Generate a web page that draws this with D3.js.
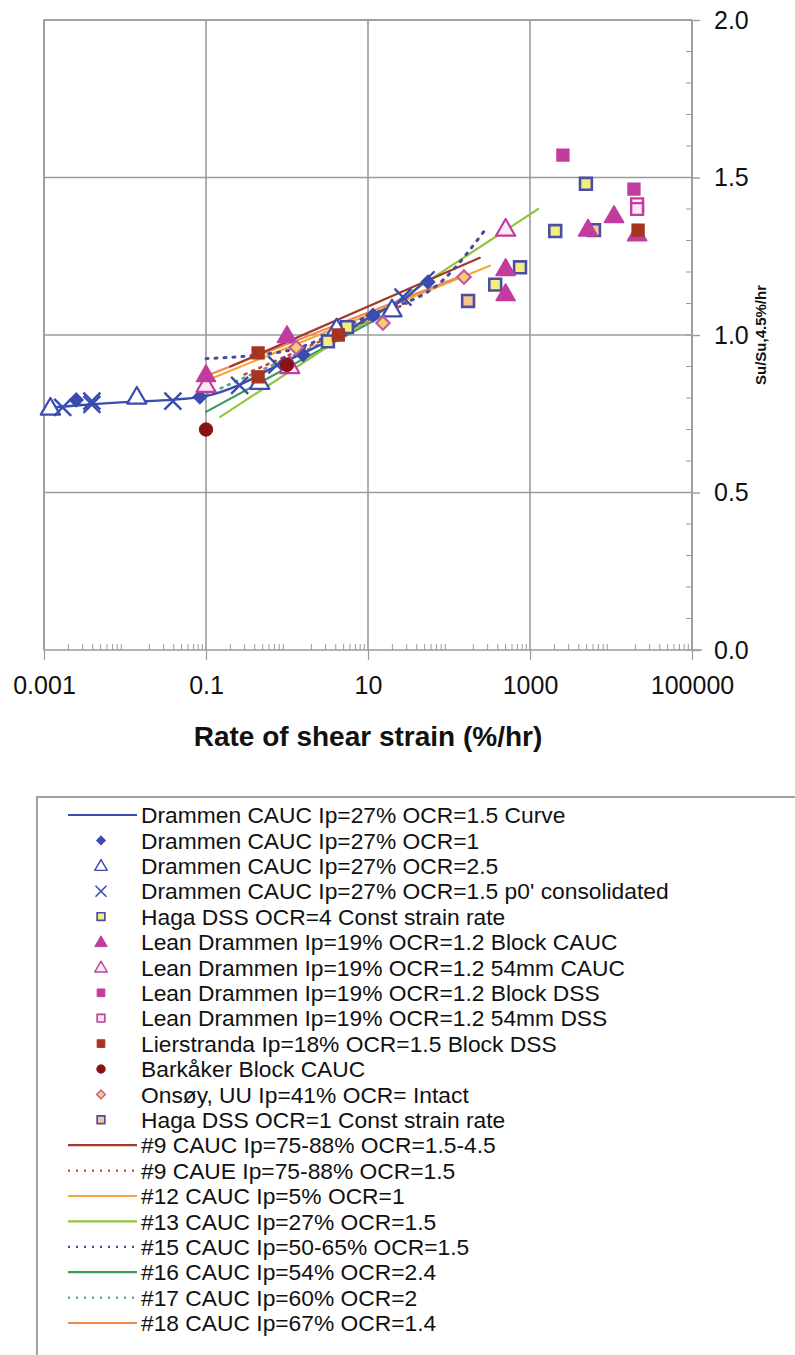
<!DOCTYPE html>
<html>
<head>
<meta charset="utf-8">
<script src="https://cdn.jsdelivr.net/npm/d3@7"></script>
<style>
  html, body { margin: 0; padding: 0; background: #fff; }
  svg { display: block; }
  text { font-family: "Liberation Sans", Arial, sans-serif; fill: #111; }
</style>
</head>
<body>
<svg id="chart" width="795" height="1355"></svg>
<script>
// ---------- data ----------
const xTickValues = [0.001, 0.1, 10, 1000, 100000];
const xTickLabels = ["0.001", "0.1", "10", "1000", "100000"];
const yTickValues = [0, 0.5, 1.0, 1.5, 2.0];
const yTickLabels = ["0.0", "0.5", "1.0", "1.5", "2.0"];
const xTitle = "Rate of shear strain (%/hr)";
const yTitle = "Su/Su,4.5%/hr";

// lines: [rate, ratio]
const drammenCurve = [[0.0011,0.768],[0.003,0.778],[0.01,0.787],[0.04,0.795],[0.1,0.806],[0.25,0.84],[0.6,0.89],[1.5,0.94],[4.5,1.0],[11,1.06],[30,1.12],[65,1.2]];
const line9CAUC = [[0.2,0.90],[240,1.245]];
const line9CAUE = [[0.3,0.875],[30,1.10]];
const line12 = [[0.1,0.855],[320,1.22]];
const line13 = [[0.15,0.74],[1260,1.40]];
const line15 = [[0.1,0.925],[1,0.95],[10,1.06],[85,1.175],[300,1.345]];
const line16 = [[0.1,0.756],[15,1.06]];
const line17 = [[0.1,0.81],[10,1.04]];
const line18 = [[0.1,0.87],[150,1.19]];

// points: [rate, ratio]
const drammenOCR1 = [[0.0025,0.794],[0.084,0.803],[1.58,0.937],[11.5,1.063],[55,1.168]];
const drammenOCR25 = [[0.0012,0.768],[0.014,0.803],[0.46,0.85],[4.1,1.02],[19.8,1.08]];
const drammenP0 = [[0.0017,0.77],[0.0039,0.78],[0.0039,0.79],[0.039,0.79],[0.26,0.84],[0.75,0.905],[27,1.12]];
const hagaOCR4 = [[3.2,0.98],[5.5,1.025],[372,1.16],[753,1.215],[2050,1.33],[4900,1.48]];
const leanBlockCAUC = [[0.1,0.873],[1.0,0.997],[500,1.21],[500,1.13],[5200,1.335],[10900,1.378],[21000,1.32]];
const lean54CAUC = [[0.1,0.84],[1.08,0.90],[500,1.336]];
const leanBlockDSS = [[2550,1.571],[19200,1.463]];
const lean54DSS = [[21000,1.415],[21000,1.40]];
const lierstranda = [[0.44,0.943],[0.44,0.867],[4.3,1.0],[21600,1.333]];
const barkaker = [[0.1,0.70],[1.0,0.905]];
const onsoy = [[1.3,0.96],[15.3,1.038],[153,1.184]];
const hagaOCR1 = [[172,1.108],[6170,1.333]];

// ---------- setup ----------
const svg = d3.select("#chart");
const L = 44, R = 692, T = 20, B = 650;
const x = d3.scaleLog().domain([0.001, 100000]).range([L, R]);
const y = d3.scaleLinear().domain([0, 2]).range([B, T]);
const gridCol = "#9b9b9b";

const C = {
  blue: "#3a4caf", magenta: "#c23c9f", brown: "#a53420", darkred: "#8a1212",
  yellow: "#f4ef7c", peach: "#f7c78e", hagaBorder: "#4a4ea6",
  onsFill: "#f6cf6a", onsStroke: "#c25aa6",
  c9: "#a23a2b", c9e: "#d8432b", c12: "#f6a83f", c13: "#8fc642",
  c15: "#4a4a98", c16: "#3c9a5f", c17: "#5aa489", c18: "#ef8a4c"
};

// grid lines (vertical every 2 decades, horizontal every 0.5)
const g = svg.append("g");
g.selectAll("line.vg").data(xTickValues).enter().append("line")
  .attr("x1", d => x(d)).attr("x2", d => x(d)).attr("y1", T).attr("y2", B)
  .attr("stroke", gridCol).attr("stroke-width", 1.6);
g.selectAll("line.hg").data(yTickValues.filter(v => v > 0)).enter().append("line")
  .attr("x1", L).attr("x2", R).attr("y1", d => y(d)).attr("y2", d => y(d))
  .attr("stroke", gridCol).attr("stroke-width", 1.6);

// bottom axis with minor ticks
const minorX = [];
for (let e = -3; e < 5; e++) for (let m = 2; m <= 9; m++) minorX.push(m * Math.pow(10, e));
const xAxis = d3.axisBottom(x).tickValues(xTickValues).tickFormat((d, i) => xTickLabels[i]).tickSize(10).tickPadding(16);
const gx = svg.append("g").attr("transform", `translate(0,${B})`).call(xAxis);
gx.select(".domain").attr("stroke", gridCol).attr("stroke-width", 1.6).attr("d", `M${L},0H${R + 10}`);
gx.selectAll(".tick line").attr("stroke", gridCol).attr("stroke-width", 1.2);
gx.selectAll(".tick text").attr("font-size", 25).attr("font-family", "Liberation Sans, Arial, sans-serif").attr("fill", "#111");
svg.append("g").selectAll("line").data(minorX).enter().append("line")
  .attr("x1", d => x(d)).attr("x2", d => x(d)).attr("y1", B).attr("y2", B - 6)
  .attr("stroke", gridCol).attr("stroke-width", 1);

// right axis
const minorY = d3.range(0, 2.001, 0.1);
const yAxis = d3.axisRight(y).tickValues(yTickValues).tickFormat((d, i) => yTickLabels[i]).tickSize(8).tickPadding(14);
const gy = svg.append("g").attr("transform", `translate(${R},0)`).call(yAxis);
gy.select(".domain").attr("stroke", gridCol).attr("stroke-width", 1.6).attr("d", `M0,${T}V${B}`);
gy.selectAll(".tick line").attr("stroke", gridCol).attr("stroke-width", 1.4);
gy.selectAll(".tick text").attr("font-size", 25).attr("font-family", "Liberation Sans, Arial, sans-serif").attr("fill", "#111");
svg.append("g").selectAll("line").data(minorY).enter().append("line")
  .attr("x1", R - 6).attr("x2", R).attr("y1", d => y(d)).attr("y2", d => y(d))
  .attr("stroke", gridCol).attr("stroke-width", 1);

// left/top border
svg.append("path").attr("d", `M${L},${B}V${T}H${R}`).attr("fill", "none").attr("stroke", gridCol).attr("stroke-width", 1.6);

// titles
svg.append("text").attr("x", 368).attr("y", 746).attr("text-anchor", "middle")
  .attr("font-size", 28).attr("font-weight", "bold").text(xTitle);
svg.append("text").attr("transform", `translate(766,${y(1.0)}) rotate(-90)`).attr("text-anchor", "middle")
  .attr("font-size", 15).attr("font-weight", "bold").text(yTitle);

// ---------- lines ----------
const lineGen = d3.line().x(d => x(d[0])).y(d => y(d[1])).curve(d3.curveMonotoneX);
const lineSeries = [
  { data: line16, color: C.c16, dash: null, w: 2.2 },
  { data: line17, color: C.c17, dash: "2,6", w: 2.6 },
  { data: line13, color: C.c13, dash: null, w: 2.2 },
  { data: line12, color: C.c12, dash: null, w: 2.2 },
  { data: line18, color: C.c18, dash: null, w: 2.2 },
  { data: line9CAUC, color: C.c9, dash: null, w: 2.2 },
  { data: line9CAUE, color: C.c9e, dash: "2,6", w: 2.6 },
  { data: line15, color: C.c15, dash: "2,7", w: 3 },
  { data: drammenCurve, color: C.blue, dash: null, w: 2.4 }
];
svg.append("g").selectAll("path").data(lineSeries).enter().append("path")
  .attr("d", d => lineGen(d.data)).attr("fill", "none")
  .attr("stroke", d => d.color).attr("stroke-width", d => d.w)
  .attr("stroke-dasharray", d => d.dash).attr("stroke-linecap", "round");

// ---------- markers ----------
function drawMarker(sel, m, scale) {
  const s = scale || 1;
  const strokeW = (m.sw || 2) * s;
  if (m.shape === "diamond") {
    sel.append("path").attr("d", d3.symbol(d3.symbolSquare, 90 * s * s)())
      .attr("transform", "rotate(45)").attr("fill", m.fill).attr("stroke", m.stroke).attr("stroke-width", strokeW);
  } else if (m.shape === "triangle") {
    sel.append("path").attr("d", d3.symbol(d3.symbolTriangle, 160 * s * s)())
      .attr("transform", "translate(0,1)")
      .attr("fill", m.fill).attr("stroke", m.stroke).attr("stroke-width", strokeW).attr("stroke-linejoin", "round");
  } else if (m.shape === "square") {
    sel.append("path").attr("d", d3.symbol(d3.symbolSquare, 140 * s * s)())
      .attr("fill", m.fill).attr("stroke", m.stroke).attr("stroke-width", strokeW);
  } else if (m.shape === "circle") {
    sel.append("path").attr("d", d3.symbol(d3.symbolCircle, 140 * s * s)())
      .attr("fill", m.fill).attr("stroke", m.stroke).attr("stroke-width", strokeW);
  } else if (m.shape === "x") {
    sel.append("path").attr("d", d3.symbol(d3.symbolTimes, 190 * s * s)())
      .attr("fill", "none").attr("stroke", m.stroke).attr("stroke-width", strokeW);
  }
}

const pointSeries = [
  { data: hagaOCR4, shape: "square", fill: C.yellow, stroke: C.hagaBorder, sw: 2.6 },
  { data: hagaOCR1, shape: "square", fill: C.peach, stroke: C.hagaBorder, sw: 2.6 },
  { data: drammenOCR25, shape: "triangle", fill: "#fff", stroke: C.blue, sw: 2.2 },
  { data: drammenP0, shape: "x", fill: "none", stroke: C.blue, sw: 2.4 },
  { data: drammenOCR1, shape: "diamond", fill: C.blue, stroke: C.blue, sw: 1.5 },
  { data: lean54CAUC, shape: "triangle", fill: "#fbe9f4", stroke: C.magenta, sw: 2.2 },
  { data: leanBlockCAUC, shape: "triangle", fill: C.magenta, stroke: C.magenta, sw: 1.5 },
  { data: leanBlockDSS, shape: "square", fill: C.magenta, stroke: C.magenta, sw: 1.5 },
  { data: lean54DSS, shape: "square", fill: "#fbe9f4", stroke: C.magenta, sw: 2.4 },
  { data: lierstranda, shape: "square", fill: C.brown, stroke: C.brown, sw: 1.5 },
  { data: barkaker, shape: "circle", fill: C.darkred, stroke: C.darkred, sw: 1 },
  { data: onsoy, shape: "diamond", fill: C.onsFill, stroke: C.onsStroke, sw: 2.2 }
];
pointSeries.forEach(ps => {
  const gg = svg.append("g").selectAll("g").data(ps.data).enter().append("g")
    .attr("transform", d => `translate(${x(d[0])},${y(d[1])})`);
  gg.each(function () { drawMarker(d3.select(this), ps, 1); });
});

// ---------- legend ----------
const legendItems = [
  { label: "Drammen CAUC Ip=27% OCR=1.5 Curve", type: "line", color: C.blue, dash: null },
  { label: "Drammen CAUC Ip=27% OCR=1", type: "marker", m: pointSeries[4] },
  { label: "Drammen CAUC Ip=27% OCR=2.5", type: "marker", m: pointSeries[2] },
  { label: "Drammen CAUC Ip=27% OCR=1.5 p0' consolidated", type: "marker", m: pointSeries[3] },
  { label: "Haga DSS OCR=4 Const strain rate", type: "marker", m: pointSeries[0] },
  { label: "Lean Drammen Ip=19% OCR=1.2 Block CAUC", type: "marker", m: pointSeries[6] },
  { label: "Lean Drammen Ip=19% OCR=1.2 54mm CAUC", type: "marker", m: pointSeries[5] },
  { label: "Lean Drammen Ip=19% OCR=1.2 Block DSS", type: "marker", m: pointSeries[7] },
  { label: "Lean Drammen Ip=19% OCR=1.2 54mm DSS", type: "marker", m: pointSeries[8] },
  { label: "Lierstranda Ip=18% OCR=1.5 Block DSS", type: "marker", m: pointSeries[9] },
  { label: "Barkåker Block CAUC", type: "marker", m: pointSeries[10] },
  { label: "Onsøy, UU Ip=41% OCR= Intact", type: "marker", m: pointSeries[11] },
  { label: "Haga DSS OCR=1 Const strain rate", type: "marker", m: pointSeries[1] },
  { label: "#9 CAUC Ip=75-88% OCR=1.5-4.5", type: "line", color: C.c9, dash: null },
  { label: "#9 CAUE Ip=75-88% OCR=1.5", type: "line", color: C.c9e, dash: "2,6" },
  { label: "#12 CAUC Ip=5% OCR=1", type: "line", color: C.c12, dash: null },
  { label: "#13 CAUC Ip=27% OCR=1.5", type: "line", color: C.c13, dash: null },
  { label: "#15 CAUC Ip=50-65% OCR=1.5", type: "line", color: C.c15, dash: "2,6" },
  { label: "#16 CAUC Ip=54% OCR=2.4", type: "line", color: C.c16, dash: null },
  { label: "#17 CAUC Ip=60% OCR=2", type: "line", color: C.c17, dash: "2,6" },
  { label: "#18 CAUC Ip=67% OCR=1.4", type: "line", color: C.c18, dash: null }
];
const legY0 = 797, rowY0 = 815, rowStep = 25.4;
svg.append("rect").attr("x", 37).attr("y", legY0).attr("width", 800).attr("height", 600)
  .attr("fill", "#fff").attr("stroke", "#a0a0a0").attr("stroke-width", 2);
const lg = svg.append("g").selectAll("g").data(legendItems).enter().append("g")
  .attr("transform", (d, i) => `translate(0,${rowY0 + i * rowStep})`);
lg.each(function (d) {
  const s = d3.select(this);
  if (d.type === "line") {
    s.append("line").attr("x1", 68).attr("x2", 137).attr("y1", 0).attr("y2", 0)
      .attr("stroke", d.color).attr("stroke-width", 2.2).attr("stroke-dasharray", d.dash);
  } else {
    const mg = s.append("g").attr("transform", "translate(101,0)");
    drawMarker(mg, d.m, 0.65);
  }
  s.append("text").attr("x", 141).attr("y", 0).attr("dy", "0.36em")
    .attr("font-size", 22.8).text(d.label);
});
</script>
</body>
</html>
